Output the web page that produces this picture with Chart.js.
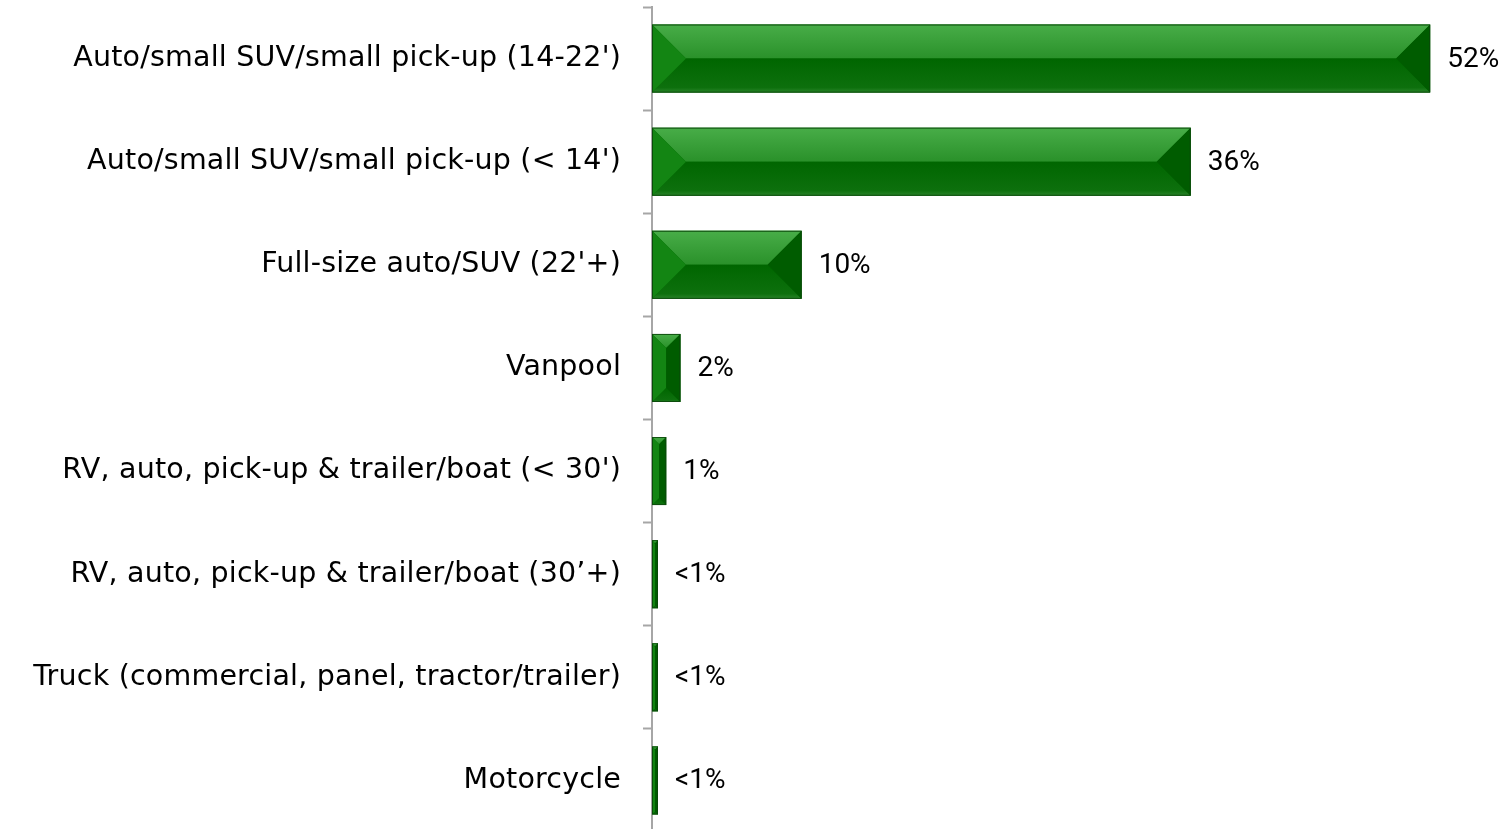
<!DOCTYPE html>
<html>
<head>
<meta charset="utf-8">
<script src="https://cdn.jsdelivr.net/npm/chart.js@4.4.1/dist/chart.umd.min.js"></script>
<style>
  html, body { margin: 0; padding: 0; background: #ffffff; overflow: hidden; }
  #wrap { position: relative; width: 1502px; height: 832px; }
</style>
</head>
<body>
<div id="wrap"><canvas id="c"></canvas></div>
<script>
const categories = [
  "Auto/small SUV/small pick-up (14-22')",
  "Auto/small SUV/small pick-up (< 14')",
  "Full-size auto/SUV (22'+)",
  "Vanpool",
  "RV, auto, pick-up & trailer/boat (< 30')",
  "RV, auto, pick-up & trailer/boat (30\u2019+)",
  "Truck (commercial, panel, tractor/trailer)",
  "Motorcycle"
];
const shares = [52, 36, 10, 1.9, 0.95, 0.4, 0.4, 0.4];
const valueLabels = ["52%", "36%", "10%", "2%", "1%", "<1%", "<1%", "<1%"];

const spacingPlugin = {
  id: 'spacing',
  beforeDraw(chart) { chart.ctx.letterSpacing = '0.2px'; },
  afterDraw(chart) { chart.ctx.letterSpacing = '0px'; }
};

const bevelPlugin = {
  id: 'bevel',
  afterDatasetsDraw(chart) {
    const ctx = chart.ctx;
    const meta = chart.getDatasetMeta(0);
    meta.data.forEach((bar, i) => {
      const p = bar.getProps(['x', 'y', 'base', 'height'], true);
      const L = Math.min(p.base, p.x), R = Math.max(p.base, p.x);
      const T = p.y - p.height / 2, B = p.y + p.height / 2;
      const w = R - L, h = B - T;
      const d = Math.min(w / 2, h / 2);
      ctx.save();
      ctx.letterSpacing = '0px';
      const poly = (pts, fill) => {
        ctx.beginPath();
        ctx.moveTo(pts[0][0], pts[0][1]);
        for (let k = 1; k < pts.length; k++) ctx.lineTo(pts[k][0], pts[k][1]);
        ctx.closePath();
        ctx.fillStyle = fill;
        ctx.fill();
      };
      poly([[L, T], [R, T], [R, B], [L, B]], '#006700');
      const gt = ctx.createLinearGradient(0, T, 0, T + d);
      gt.addColorStop(0, '#48ad48');
      gt.addColorStop(1, '#2a912a');
      poly([[L, T], [R, T], [R - d, T + d], [L + d, T + d]], gt);
      const gb = ctx.createLinearGradient(0, B - d, 0, B);
      gb.addColorStop(0, '#006600');
      gb.addColorStop(0.85, '#0d700d');
      gb.addColorStop(1, '#2a842a');
      poly([[L, B], [L + d, B - d], [R - d, B - d], [R, B]], gb);
      poly([[L, T], [L + d, T + d], [L + d, B - d], [L, B]], '#138513');
      poly([[R, T], [R - d, T + d], [R - d, B - d], [R, B]], '#005c00');
      ctx.strokeStyle = 'rgba(10,70,10,0.9)';
      ctx.lineWidth = 1;
      ctx.strokeRect(L + 0.5, T + 0.5, w - 1, h - 1);
      ctx.fillStyle = '#000000';
      ctx.font = '28px Roboto';
      ctx.textAlign = 'left';
      ctx.textBaseline = 'middle';
      ctx.fillText(valueLabels[i], R + 17, p.y + 1);
      ctx.restore();
    });
  }
};

new Chart(document.getElementById('c'), {
  type: 'bar',
  data: {
    labels: categories,
    datasets: [{
      data: shares,
      backgroundColor: 'rgba(0,0,0,0)',
      borderWidth: 0,
      categoryPercentage: 1.0,
      barPercentage: 0.66
    }]
  },
  options: {
    indexAxis: 'y',
    responsive: true,
    maintainAspectRatio: false,
    animation: false,
    events: [],
    layout: { padding: { top: 7, right: 0, bottom: 0, left: 0 } },
    plugins: { legend: { display: false }, tooltip: { enabled: false } },
    scales: {
      x: { display: false, min: 0, max: 56.8 },
      y: {
        position: 'left',
        afterFit(scale) {
          scale.width = 652;
          scale.paddingTop = 0;
          scale.paddingBottom = 0;
        },
        border: { display: true, color: '#a6a6a6', width: 2 },
        grid: {
          offset: true,
          drawOnChartArea: false,
          drawTicks: true,
          tickLength: 9,
          tickWidth: 2,
          color: '#a6a6a6'
        },
        ticks: {
          color: '#000000',
          padding: 22,
          font: { family: "'DejaVu Sans', sans-serif", size: 28.5 }
        }
      }
    }
  },
  plugins: [spacingPlugin, bevelPlugin]
});
</script>
</body>
</html>
